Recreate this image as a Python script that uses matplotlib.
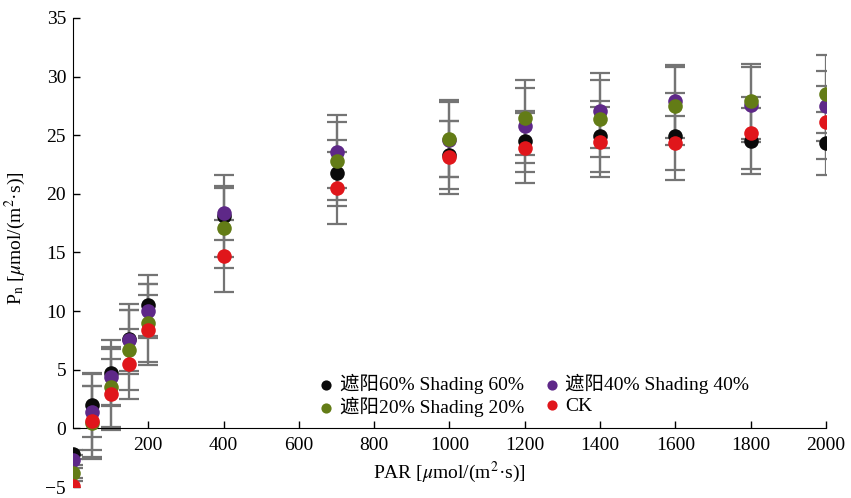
import numpy as np
import matplotlib
matplotlib.use("Agg")
import matplotlib.pyplot as plt

# PAR levels and net photosynthetic rate per treatment
par = [0, 50, 100, 150, 200, 400, 700, 1000, 1200, 1400, 1600, 1800, 2000]

shade60 = [-2.2, 2.0, 4.7, 7.6, 10.5, 18.1, 21.8, 23.3, 24.5, 24.9, 24.9, 24.5, 24.3]
shade40 = [-2.7, 1.4, 4.4, 7.5, 10.0, 18.4, 23.6, 24.6, 25.8, 27.1, 27.9, 27.6, 27.5]
shade20 = [-3.8, 0.5, 3.5, 6.7, 9.0, 17.1, 22.8, 24.7, 26.5, 26.4, 27.5, 27.9, 28.5]
ck = [-4.9, 0.6, 2.9, 5.5, 8.4, 14.7, 20.5, 23.1, 23.9, 24.4, 24.3, 25.2, 26.1]

err60 = [0.4, 2.7, 2.8, 3.0, 2.6, 3.5, 2.8, 2.9, 2.6, 3.0, 3.7, 2.8, 2.7]
err40 = [0.4, 3.2, 2.4, 2.6, 2.3, 2.3, 3.1, 3.2, 3.2, 3.2, 3.1, 3.2, 3.0]
err20 = [0.4, 3.1, 3.4, 3.4, 3.3, 3.4, 3.3, 3.3, 3.2, 3.3, 3.3, 3.2, 3.3]
errck = [0.4, 3.0, 3.0, 3.0, 3.0, 3.1, 3.1, 3.1, 3.0, 3.0, 2.3, 3.1, 3.1]

labels = ["遮阳60% Shading 60%", "遮阳40% Shading 40%", "遮阳20% Shading 20%", "CK"]
colors = ["#0a0a0a", "#5e2888", "#637c16", "#e0161b"]

plt.rcParams["font.family"] = ["Liberation Serif", "Noto Sans CJK SC"]
plt.rcParams["mathtext.fontset"] = "stix"
fs = 14

fig = plt.figure(figsize=(8.51, 4.98), dpi=100)
ax = fig.add_axes([0.0858, 0.022, 0.8848, 0.942])

series = [shade60, shade40, shade20, ck]
errors = [err60, err40, err20, errck]

# error bars first, then points on top
for vals, errs in zip(series, errors):
    ax.errorbar(par, vals, yerr=errs, fmt="none", ecolor="#747474",
                elinewidth=1.6, capsize=7, capthick=1.6, zorder=1)

handles = []
for vals, c, lab in zip(series, colors, labels):
    h = ax.scatter(par, vals, s=110, color=c, label=lab, zorder=3, linewidths=0)
    handles.append(h)

ax.set_xlim(0, 2000)
ax.set_ylim(-5, 35)
ax.set_xticks(range(200, 2001, 200))
ax.set_yticks(range(-5, 36, 5))

ax.spines["top"].set_visible(False)
ax.spines["right"].set_visible(False)
ax.spines["bottom"].set_position(("data", 0))
ax.spines["left"].set_bounds(0, 35)
ax.tick_params(direction="in", length=5, width=1, labelsize=fs)
ax.tick_params(axis="x", pad=6)
ax.tick_params(axis="y", pad=5)

ax.set_xlabel(r"PAR [$\mu$mol/(m$^2$·s)]", fontsize=fs, labelpad=4)
ax.set_ylabel(r"P$_\mathrm{n}$ [$\mu$mol/(m$^2$·s)]", fontsize=fs)
ax.yaxis.set_label_coords(-0.06, 0.53)

# legend: two rows, black/purple first row
order = [0, 2, 1, 3]
ax.legend([handles[i] for i in order], [labels[i] for i in order], ncol=2,
          loc="lower left", bbox_to_anchor=(0.303, 0.12), frameon=False,
          markerscale=0.7, handletextpad=0.1, handlelength=1.2,
          columnspacing=0.8, labelspacing=0.15, fontsize=fs,
          borderpad=0.2)

fig.savefig("out.png", dpi=100)
